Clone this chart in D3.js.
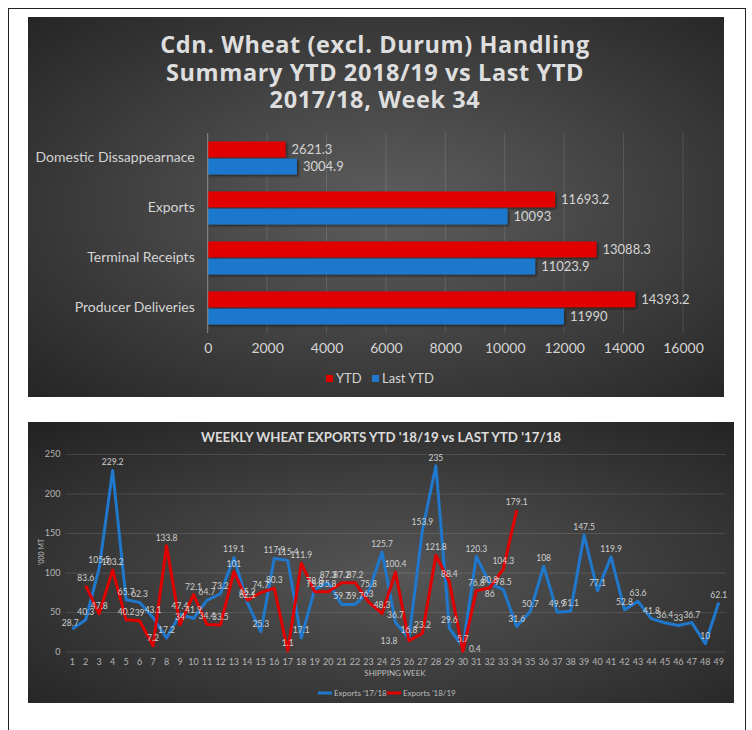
<!DOCTYPE html>
<html>
<head>
<meta charset="utf-8">
<script src="https://cdn.jsdelivr.net/npm/d3@7"></script>
<style>
  html, body { margin: 0; padding: 0; background: #fff; }
  svg { display: block; }
</style>
</head>
<body>
<svg id="page" width="752" height="730"></svg>
<script>
/** handling summary (top chart) */
const handlingCats = ["Domestic Dissappearnace", "Exports", "Terminal Receipts", "Producer Deliveries"];
const ytd = [2621.3, 11693.2, 13088.3, 14393.2];
const lastYtd = [3004.9, 10093, 11023.9, 11990];
const handlingTicks = [0, 2000, 4000, 6000, 8000, 10000, 12000, 14000, 16000];

/** weekly exports (bottom chart) */
const weeks = [1, 2, 3, 4, 5, 6, 7, 8, 9, 10, 11, 12, 13, 14, 15, 16, 17, 18, 19, 20, 21, 22, 23, 24, 25,
  26, 27, 28, 29, 30, 31, 32, 33, 34, 35, 36, 37, 38, 39, 40, 41, 42, 43, 44, 45, 46, 47, 48, 49];
const exports1718 = [28.7, 40.3, 105.5, 229.2, 65.7, 62.3, 43.1, 17.2, 47.4, 41.9, 64.7, 73.2, 119.1, 62.1,
  25.3, 117.9, 115.4, 17.1, 78.8, 87.3, 59.7, 59.7, 75.8, 125.7, 36.7, 16.8, 153.9, 235, 29.6, 5.7, 120.3,
  86, 78.5, 31.6, 50.7, 108, 49.9, 51.1, 147.5, 77.1, 119.9, 52.8, 63.6, 41.8, 36.4, 33, 36.7, 10, 62.1];
const exports1819 = [null, 83.6, 47.8, 103.2, 40.2, 39, 7.2, 133.8, 34, 72.1, 34.4, 33.5, 101, 65.2, 74.7,
  80.3, 1.1, 111.9, 75.8, 75.8, 87.2, 87.2, 63, 48.3, 100.4, 13.8, 23.2, 121.8, 88.4, 0.4, 76.8, 80.8, 104.3, 179.1];
const exportTicks = [0, 50, 100, 150, 200, 250];

const RED = "#e00000";
const BLUE = "#1f78cc";
const TXT = "#d4d4d4";

const svg = d3.select("#page");
const defs = svg.append("defs");

/** radial background for the panels */
const radial = (id, cx, cy, inner, outer) => {
  const g = defs.append("radialGradient").attr("id", id)
    .attr("cx", cx).attr("cy", cy).attr("r", "0.75");
  g.append("stop").attr("offset", "0%").attr("stop-color", inner);
  g.append("stop").attr("offset", "100%").attr("stop-color", outer);
};
radial("bgTop", "0.52", "0.5", "#5e5e5e", "#232323");
radial("bgBot", "0.52", "0.55", "#565656", "#222222");

defs.append("filter").attr("id", "shadow")
  .append("feDropShadow").attr("dx", 1.5).attr("dy", 1.5).attr("stdDeviation", 1)
  .attr("flood-color", "#000").attr("flood-opacity", 0.5);

/** page frame */
svg.append("rect")
  .attr("x", 8.5).attr("y", 8.5).attr("width", 737).attr("height", 740)
  .attr("fill", "none").attr("stroke", "#222").attr("stroke-width", 1);

/* ---------------- top chart ---------------- */
const topChart = svg.append("g");
topChart.append("rect").attr("x", 28).attr("y", 17).attr("width", 696).attr("height", 380)
  .attr("fill", "url(#bgTop)");

topChart.append("text")
  .attr("x", 375).attr("y", 53)
  .attr("text-anchor", "middle")
  .attr("fill", "#dedede")
  .style("font", "bold 23.5px 'Open Sans', sans-serif")
  .style("letter-spacing", "0.6px")
  .selectAll("tspan")
  .data(["Cdn. Wheat (excl. Durum) Handling", "Summary YTD 2018/19 vs Last YTD", "2017/18, Week 34"])
  .join("tspan")
  .attr("x", 375)
  .attr("dy", (d, i) => (i ? 27.5 : 0))
  .text((d) => d);

const xH = d3.scaleLinear().domain([0, 16000]).range([207.7, 683]);
const yH = d3.scaleBand().domain(handlingCats).range([133, 333]);
const sub = d3.scaleBand().domain(["ytd", "last"]).range([8.5, 41.5]).paddingInner(0.08);

/** vertical gridlines */
topChart.append("g")
  .selectAll("line")
  .data(handlingTicks.slice(1))
  .join("line")
  .attr("x1", (d) => xH(d)).attr("x2", (d) => xH(d))
  .attr("y1", 133).attr("y2", 333)
  .attr("stroke", "rgba(255,255,255,0.13)");

/** bars */
const bars = topChart.append("g").attr("filter", "url(#shadow)");
handlingCats.forEach((c, i) => {
  bars.append("rect")
    .attr("x", xH(0)).attr("y", yH(c) + sub("ytd"))
    .attr("width", xH(ytd[i]) - xH(0)).attr("height", sub.bandwidth())
    .attr("fill", RED);
  bars.append("rect")
    .attr("x", xH(0)).attr("y", yH(c) + sub("last"))
    .attr("width", xH(lastYtd[i]) - xH(0)).attr("height", sub.bandwidth())
    .attr("fill", BLUE);
});

/** bar values */
handlingCats.forEach((c, i) => {
  [[ytd[i], "ytd"], [lastYtd[i], "last"]].forEach(([v, k]) =>
    topChart.append("text")
      .attr("x", xH(v) + 6)
      .attr("y", yH(c) + sub(k) + sub.bandwidth() / 2)
      .attr("dy", "0.35em")
      .attr("fill", TXT)
      .style("font", "13px Lato, sans-serif")
      .text(v));
});

/** axes */
topChart.append("line")
  .attr("x1", xH(0)).attr("x2", xH(0)).attr("y1", 133).attr("y2", 333)
  .attr("stroke", "#8c8c8c");

topChart.append("g")
  .attr("transform", "translate(0,333)")
  .call(d3.axisBottom(xH).tickValues(handlingTicks).tickSize(0).tickPadding(10).tickFormat(d3.format("d")))
  .call((g) => g.select(".domain").remove())
  .selectAll("text")
  .attr("fill", TXT)
  .style("font", "14px Lato, sans-serif");

topChart.append("g")
  .attr("transform", `translate(${xH(0)},0)`)
  .call(d3.axisLeft(yH).tickSize(0).tickPadding(13))
  .call((g) => g.select(".domain").remove())
  .selectAll("text")
  .attr("fill", TXT)
  .style("font", "14px Lato, sans-serif");

/** legend */
const legTop = topChart.append("g").style("font", "13px Lato, sans-serif");
[["YTD", RED, 326], ["Last YTD", BLUE, 372]].forEach(([name, color, x]) => {
  legTop.append("rect").attr("x", x).attr("y", 375).attr("width", 7).attr("height", 7).attr("fill", color);
  legTop.append("text").attr("x", x + 10).attr("y", 383).attr("fill", TXT).text(name);
});

/* ---------------- bottom chart ---------------- */
const botChart = svg.append("g");
botChart.append("rect").attr("x", 28).attr("y", 422).attr("width", 706).attr("height", 281)
  .attr("fill", "url(#bgBot)");

botChart.append("text")
  .attr("x", 381).attr("y", 442)
  .attr("text-anchor", "middle")
  .attr("fill", "#dcdcdc")
  .style("font", "bold 13.3px Lato, sans-serif")
  .text("WEEKLY WHEAT EXPORTS YTD '18/19 vs LAST YTD '17/18");

const xE = d3.scaleBand().domain(weeks).range([65.5, 725.5]);
const yE = d3.scaleLinear().domain([0, 250]).range([651.6, 454]);
const cx = (w) => xE(w) + xE.bandwidth() / 2;

/** y axis + gridlines */
botChart.append("g")
  .attr("transform", "translate(65.5,0)")
  .call(d3.axisLeft(yE).tickValues(exportTicks).tickSize(-660).tickPadding(5))
  .call((g) => g.select(".domain").remove())
  .call((g) => g.selectAll("line").attr("stroke", "rgba(255,255,255,0.12)"))
  .selectAll("text")
  .attr("fill", "#b4b4b4")
  .style("font", "9px Lato, sans-serif");

/** x axis */
botChart.append("g")
  .attr("transform", "translate(0,651.6)")
  .call(d3.axisBottom(xE).tickSize(0).tickPadding(7))
  .call((g) => g.select(".domain").remove())
  .selectAll("text")
  .attr("fill", "#b4b4b4")
  .style("font", "9px Lato, sans-serif");

botChart.append("text")
  .attr("x", 395).attr("y", 676)
  .attr("text-anchor", "middle")
  .attr("fill", "#bdbdbd")
  .style("font", "8px Lato, sans-serif")
  .text("SHIPPING WEEK");

botChart.append("text")
  .attr("transform", "translate(44,552) rotate(-90)")
  .attr("text-anchor", "middle")
  .attr("fill", "#bdbdbd")
  .style("font", "7px Lato, sans-serif")
  .text("'000 MT");

/** series lines */
const series = [
  { key: "b", name: "Exports '17/18", values: exports1718, color: BLUE },
  { key: "r", name: "Exports '18/19", values: exports1819, color: RED },
];
const line = d3.line()
  .defined((d) => d.v != null)
  .x((d) => cx(d.w))
  .y((d) => yE(d.v));

for (const s of series) {
  const pts = s.values.map((v, i) => ({ w: weeks[i], v }));
  botChart.append("path")
    .attr("d", line(pts))
    .attr("fill", "none")
    .attr("stroke", s.color)
    .attr("stroke-width", 3)
    .attr("stroke-linejoin", "round");
}

/** data labels; a few moved off the lines */
const labelNudge = { r26: [-20, 8], r30: [12, 6], b32: [0, 18], b1: [-2, 2] };
for (const s of series) {
  s.values.forEach((v, i) => {
    if (v == null) return;
    const [dx, dy] = labelNudge[s.key + weeks[i]] || [0, 0];
    botChart.append("text")
      .attr("x", cx(weeks[i]) + dx)
      .attr("y", yE(v) - 5 + dy)
      .attr("text-anchor", "middle")
      .attr("fill", "#d0d0d0")
      .style("font", "8.5px Lato, sans-serif")
      .text(v);
  });
}

/** legend */
const legBot = botChart.append("g").style("font", "8px Lato, sans-serif");
series.forEach((s, i) => {
  const x = 318 + i * 69;
  legBot.append("line").attr("x1", x).attr("x2", x + 14).attr("y1", 693).attr("y2", 693)
    .attr("stroke", s.color).attr("stroke-width", 3);
  legBot.append("text").attr("x", x + 16).attr("y", 696).attr("fill", "#bdbdbd").text(s.name);
});
</script>
</body>
</html>
